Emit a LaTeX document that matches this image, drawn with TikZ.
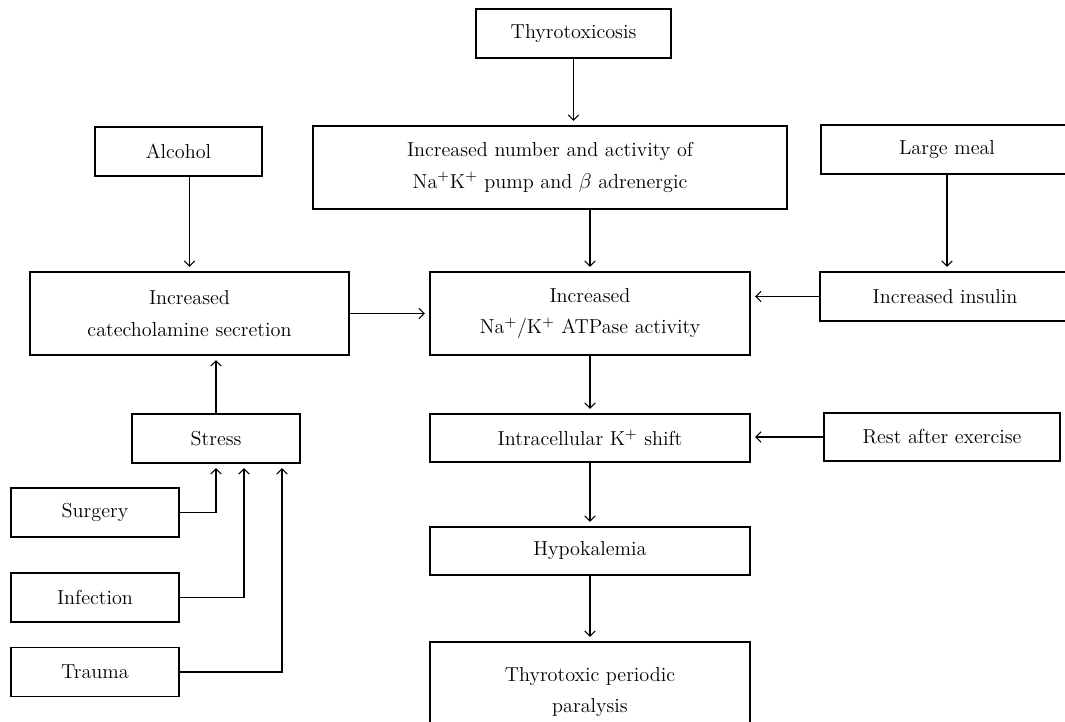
\documentclass[tikz,border=0pt]{standalone}
\usepackage{amsmath,amssymb}
\usepackage{tikz}
\usetikzlibrary{arrows,arrows.meta,positioning}

\begin{document}
\begin{tikzpicture}[x=0.02cm, y=-0.02cm, line width=0.75pt, >={Straight Barb[length=3pt,width=6pt]}]
  \tikzset{box/.style={draw, inner sep=0pt, align=center, font=\fontsize{11.5}{18}\selectfont},
           link/.style={->, line width=0.6pt, shorten >=2.5pt}}
    \useasboundingbox (0,0) rectangle (1065,722);

    % top row
    \node[box, minimum width=3.9cm, minimum height=0.98cm] (thyro) at (573.5,33.5) {Thyrotoxicosis};
    \node[box, minimum width=9.48cm, minimum height=1.66cm] (incnum) at (550,167.5) {Increased number and activity of\\Na$^{+}$K$^{+}$ pump and $\beta$ adrenergic};
    \node[box, minimum width=3.34cm, minimum height=0.98cm] (alcohol) at (178.5,151.5) {Alcohol};
    \node[box, minimum width=5.04cm, minimum height=0.98cm] (meal) at (947,149.5) {Large meal};

    % middle row
    \node[box, minimum width=6.38cm, minimum height=1.66cm] (catech) at (189.5,313.5) {Increased\\catecholamine secretion};
    \node[box, minimum width=6.4cm, minimum height=1.66cm] (atpase) at (590,313.5) {Increased\\Na$^{+}$/K$^{+}$ ATPase activity};
    \node[box, minimum width=5.0cm, minimum height=0.98cm] (insulin) at (945,296.5) {Increased insulin};

    \node[box, minimum width=3.36cm, minimum height=0.98cm] (stress) at (216,438.5) {Stress};
    \node[box, minimum width=6.4cm, minimum height=0.96cm] (shift) at (590,438) {Intracellular K$^{+}$ shift};
    \node[box, minimum width=4.72cm, minimum height=0.96cm] (rest) at (942,437) {Rest after exercise};

    % causes of stress
    \node[box, minimum width=3.36cm, minimum height=0.98cm] (surgery) at (95,512.5) {Surgery};
    \node[box, minimum width=3.36cm, minimum height=0.98cm] (infection) at (95,597.5) {Infection};
    \node[box, minimum width=3.36cm, minimum height=0.98cm] (trauma) at (95,672) {Trauma};

    % bottom chain
    \node[box, minimum width=6.4cm, minimum height=0.96cm] (hypo) at (590,551) {Hypokalemia};
    \node[box, minimum width=6.4cm, minimum height=2.0cm] (tpp) at (590,692) {Thyrotoxic periodic\\paralysis};

    \draw[link] (thyro.south) -- (thyro.south |- incnum.north);
    \draw[link] (incnum.south -| atpase.north) -- (atpase.north);
    \draw[link] (alcohol.south -| catech.north) -- (catech.north);
    \draw[link] (catech.east) -- (atpase.west);
    \draw[link] (stress.north) -- (catech.south -| stress.north);
    \draw[link] (meal.south) -- (meal.south |- insulin.north);
    \draw[link] (insulin.west) -- (insulin.west -| atpase.east);
    \draw[link] (rest.west) -- (rest.west -| shift.east);
    \draw[link] (atpase.south) -- (shift.north);
    \draw[link] (shift.south) -- (hypo.north);
    \draw[link] (hypo.south) -- (tpp.north);

    \draw[link] (surgery.east) -| (stress.south);
    \draw[link] (infection.east) -| ([xshift=0.56cm]stress.south);
    \draw[link] (trauma.east) -| ([xshift=1.32cm]stress.south);
\end{tikzpicture}
\end{document}
